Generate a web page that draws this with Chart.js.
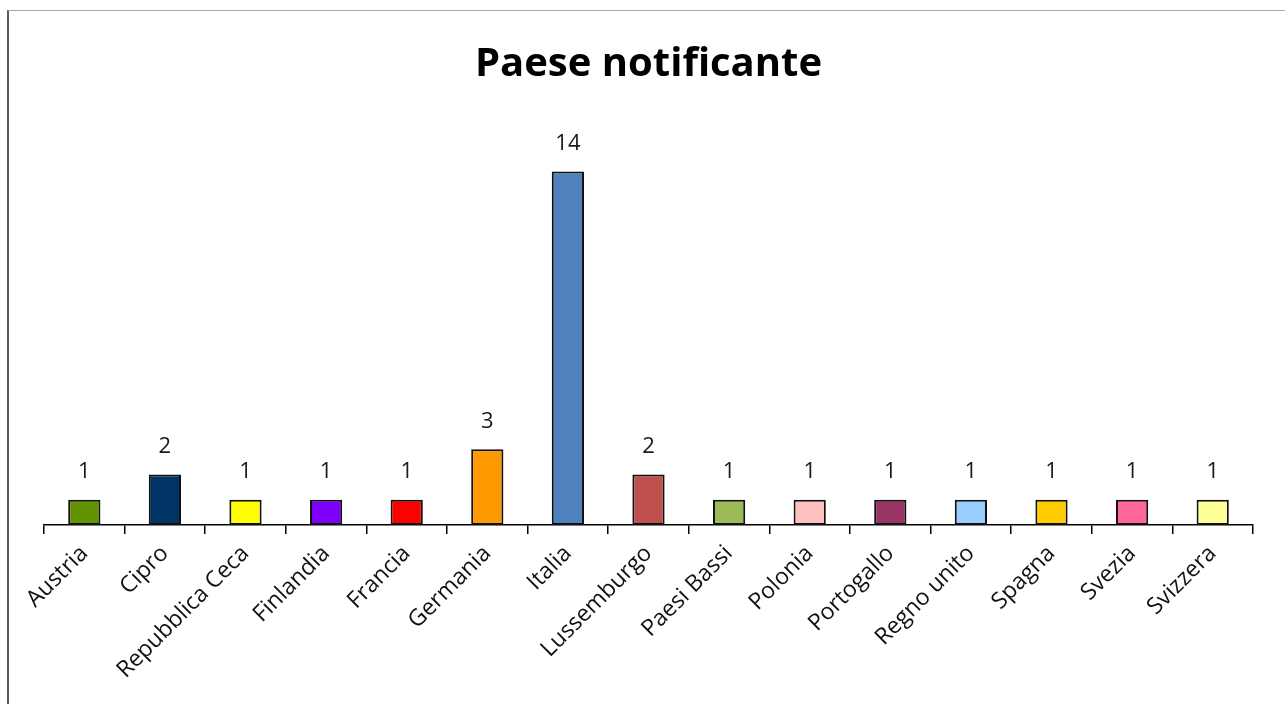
<!DOCTYPE html>
<html lang="it">
<meta charset="utf-8" />
<title>Paese notificante</title>
<script src="https://cdn.jsdelivr.net/npm/chart.js@4.4.1"></script>
<style>
*{box-sizing:border-box}
body{margin:0;background:#fff;overflow:hidden}
#frame{position:absolute;left:7px;top:10px;width:1278px;height:694px;border-left:2px solid #5a5a5a;border-top:1px solid #a6a6a6}
canvas{display:block}
</style>
<body>
<div id="frame"><canvas id="chart" width="1276" height="693"></canvas></div>
<script>
// dati
const paesi  = ['Austria','Cipro','Repubblica Ceca','Finlandia','Francia','Germania','Italia',
                'Lussemburgo','Paesi Bassi','Polonia','Portogallo','Regno unito','Spagna','Svezia','Svizzera'];
const valori = [1,2,1,1,1,3,14,2,1,1,1,1,1,1,1];
const colori = ['#619400','#003366','#ffff00','#8000ff','#ff0000','#ff9900','#4f81bd',
                '#c0504d','#9bbb59','#ffc0c0','#993366','#99ccff','#ffcc00','#ff6699','#ffff99'];

const FONT = '"Open Sans", sans-serif';

/* etichette sopra le barre */
const valueLabels = {
  id:'valueLabels',
  afterDatasetsDraw(chart){
    const {ctx} = chart;
    const meta = chart.getDatasetMeta(0);
    ctx.save();
    ctx.font = '22px ' + FONT;
    ctx.fillStyle = '#1a1a1a';
    ctx.textAlign = 'center';
    ctx.textBaseline = 'middle';
    meta.data.forEach((bar, i) => {
      ctx.fillText(valori[i], bar.x, bar.y - 28);
    });
    ctx.restore();
  }
};

new Chart(document.getElementById('chart'), {
  type:'bar',
  data:{
    labels: paesi,
    datasets:[{
      data: valori,
      backgroundColor: colori,
      borderColor:'#111',
      borderWidth:2,
      borderSkipped:false,
      barPercentage:0.4,
      categoryPercentage:1
    }]
  },
  options:{
    responsive:false,
    animation:false,
    layout:{ padding:{ left:35, right:32, top:20, bottom:14 } },
    plugins:{
      legend:{ display:false },
      tooltip:{ enabled:false },
      title:{
        display:true,
        text:'Paese notificante',
        color:'#000',
        font:{ family:FONT, size:40, weight:'bold' },
        padding:{ top:10, bottom:32 }
      }
    },
    scales:{
      x:{
        border:{ display:true, color:'#000', width:1.5 },
        grid:{ display:true, drawOnChartArea:false, drawTicks:true, tickLength:9, color:'#000', lineWidth:1.5, offset:true },
        ticks:{ color:'#111', font:{ family:FONT, size:23 }, maxRotation:45, minRotation:45, autoSkip:false, padding:6 }
      },
      y:{ display:false, min:0, max:16 }
    }
  },
  plugins:[valueLabels]
});
</script>
</body>
</html>
